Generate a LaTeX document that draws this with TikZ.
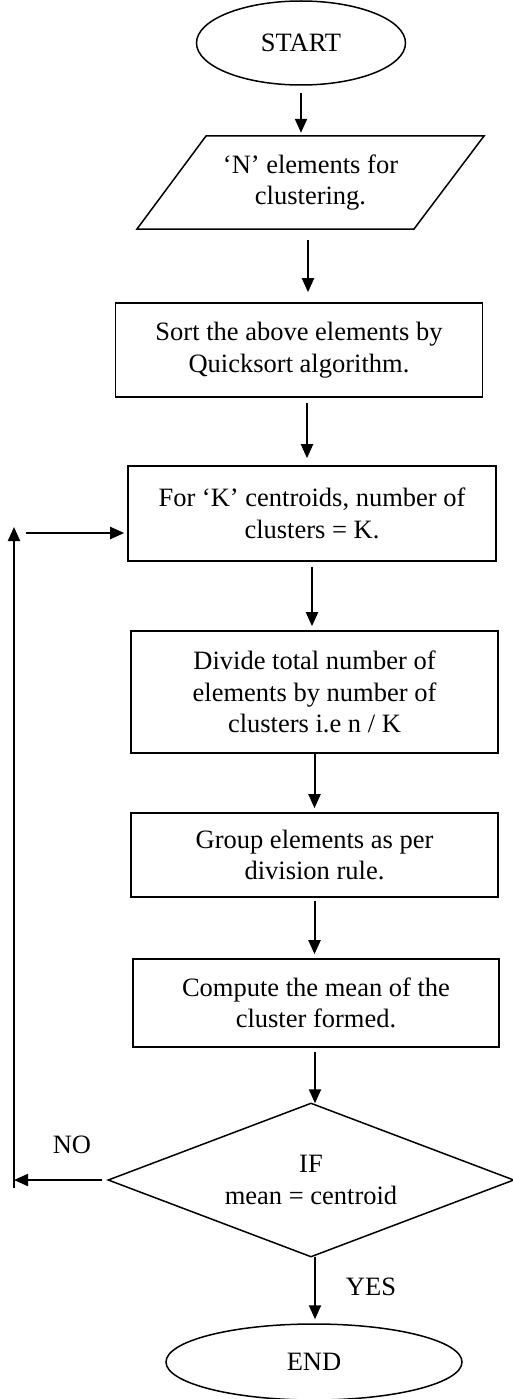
\documentclass[tikz,border=0pt]{standalone}
\usepackage{fontspec}
\setmainfont{Liberation Serif}
\usetikzlibrary{shapes.geometric,arrows.meta}
\begin{document}
\begin{tikzpicture}[x=1pt,y=1pt,
  every node/.style={font=\fontsize{26.5}{31.5}\selectfont, align=center, inner sep=0pt},
  term/.style={ellipse, draw, line width=1.5pt},
  proc/.style={rectangle, draw, line width=1.6pt, minimum width=367pt},
  arr/.style={line width=2pt, -{Triangle[length=14pt,width=12pt]}}]
\useasboundingbox (0,0) rectangle (513,-1399);
% nodes
\node[term, minimum width=209pt, minimum height=84pt] (start) at (301,-43) {START};
\node[minimum width=278pt, minimum height=93pt] (para) at (310.5,-182.5) {`N' elements for\\clustering.};
\draw[line width=1.5pt] (206,-136) -- (484,-136) -- (414,-229) -- (137,-229) -- cycle;
\node[proc, minimum height=94pt] (sort) at (299,-350) {Sort the above elements by\\Quicksort algorithm.};
\node[proc, minimum height=95pt, minimum width=368pt] (fork) at (312,-513.5) {For `K' centroids, number of\\clusters = K.};
\node[proc, minimum height=122pt] (divide) at (314.5,-692) {Divide total number of\\elements by number of\\clusters i.e n / K};
\node[proc, minimum height=84pt] (group) at (314.5,-855) {Group elements as per\\division rule.};
\node[proc, minimum height=88pt, minimum width=366pt] (compute) at (316,-1003) {Compute the mean of the\\cluster formed.};
\node[minimum width=405pt, minimum height=153pt] (dec) at (311,-1180) {IF\\mean = centroid};
\draw[line width=1.5pt] (dec.north) -- (dec.east) -- (dec.south) -- (dec.west) -- cycle;
\node[term, minimum width=296pt, minimum height=76pt] (end) at (314,-1362) {END};
\node (no) at (72,-1145) {NO};
\node (yes) at (371,-1287) {YES};
\coordinate (lp) at (14,-1182);
\coordinate (lt) at (14,-527);
\coordinate (lh) at (26,-533);
% connectors
\draw[arr, shorten <=7pt, shorten >=3pt] (start.south) -- (start.south |- para.north);
\draw[arr, shorten <=11pt, shorten >=10pt] ([xshift=-2.5pt]para.south) -- ([xshift=-2.5pt]para.south |- sort.north);
\draw[arr, shorten <=5pt, shorten >=7pt] ([xshift=8pt]sort.south) -- ([xshift=8pt]sort.south |- fork.north);
\draw[arr, shorten <=5pt, shorten >=4pt] (fork.south) -- (fork.south |- divide.north);
\draw[arr, shorten >=4pt] (divide.south) -- (divide.south |- group.north);
\draw[arr, shorten <=3pt, shorten >=4pt] (group.south) -- (group.south |- compute.north);
\draw[arr, shorten <=4pt, shorten >=0pt] ([xshift=-1pt]compute.south) -- ([xshift=-1pt]compute.south |- dec.north);
\draw[arr, shorten >=4pt] ([xshift=4pt]dec.south) -- ([xshift=4pt]dec.south |- end.north);
\draw[arr, shorten <=6pt] (dec.west) -- (dec.west -| lp);
\draw[line width=2pt] (lp) -- ([yshift=-6pt]lp);
\draw[arr] (lp) -- (lt);
\draw[arr, shorten >=3pt] (lh) -- (lh -| fork.west);
\end{tikzpicture}
\end{document}
